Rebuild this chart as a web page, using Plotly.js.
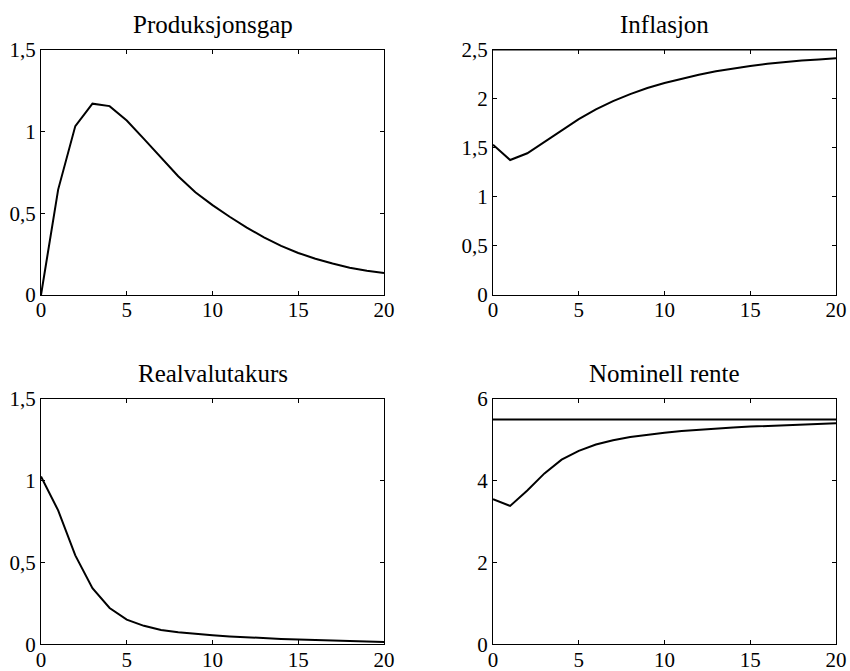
<!DOCTYPE html>
<html>
<head>
<meta charset="utf-8">
<script src="https://cdn.plot.ly/plotly-3.0.1.min.js"></script>
<style>html,body{margin:0;padding:0;background:#fff;}#chart{width:850px;height:671px;}</style>
</head>
<body>
<div id="chart"></div>
<script>
// Periods (quarters)
const periods = [0,1,2,3,4,5,6,7,8,9,10,11,12,13,14,15,16,17,18,19,20];

// Produksjonsgap
const outputGap = [0, 0.644, 1.032, 1.169, 1.154, 1.066, 0.954, 0.838, 0.726, 0.628, 0.549,
                   0.478, 0.412, 0.352, 0.300, 0.257, 0.222, 0.192, 0.167, 0.148, 0.134];
// Inflasjon
const inflation = [1.53, 1.375, 1.443, 1.56, 1.68, 1.79, 1.89, 1.974, 2.045, 2.108, 2.158,
                   2.203, 2.243, 2.278, 2.308, 2.333, 2.354, 2.372, 2.388, 2.399, 2.41];
const inflationTarget = 2.5;
// Realvalutakurs
const realExchangeRate = [1.026, 0.819, 0.544, 0.343, 0.222, 0.151, 0.113, 0.088, 0.073, 0.062, 0.055,
                          0.048, 0.042, 0.037, 0.033, 0.029, 0.025, 0.022, 0.019, 0.017, 0.014];
// Nominell rente
const nominalRate = [3.55, 3.385, 3.76, 4.18, 4.515, 4.733, 4.885, 4.99, 5.07, 5.13, 5.175,
                     5.215, 5.25, 5.28, 5.305, 5.325, 5.343, 5.358, 5.372, 5.387, 5.405];
const neutralRate = 5.5;

// Titles and tick labels
const panelTitles = ["Produksjonsgap", "Inflasjon", "Realvalutakurs", "Nominell rente"];
const xTickVals = [0, 5, 10, 15, 20];
const xTickText = ["0", "5", "10", "15", "20"];
const yTickVals1 = [0, 0.5, 1, 1.5];
const yTickText1 = ["0", "0,5", "1", "1,5"];
const yTickVals2 = [0, 0.5, 1, 1.5, 2, 2.5];
const yTickText2 = ["0", "0,5", "1", "1,5", "2", "2,5"];
const yTickVals3 = [0, 0.5, 1, 1.5];
const yTickText3 = ["0", "0,5", "1", "1,5"];
const yTickVals4 = [0, 2, 4, 6];
const yTickText4 = ["0", "2", "4", "6"];

const W = 850, H = 671;
const FONT = "Liberation Serif, Times New Roman, serif";
const lineStyle = {color: "#000", width: 2};

const xEnd = [periods[0], periods[periods.length - 1]];

const traces = [
  {x: periods, y: outputGap, xaxis: "x", yaxis: "y", mode: "lines", line: lineStyle},
  {x: periods, y: inflation, xaxis: "x2", yaxis: "y2", mode: "lines", line: lineStyle},
  {x: xEnd, y: [inflationTarget, inflationTarget], xaxis: "x2", yaxis: "y2", mode: "lines", line: lineStyle},
  {x: periods, y: realExchangeRate, xaxis: "x3", yaxis: "y3", mode: "lines", line: lineStyle},
  {x: periods, y: nominalRate, xaxis: "x4", yaxis: "y4", mode: "lines", line: lineStyle},
  {x: xEnd, y: [neutralRate, neutralRate], xaxis: "x4", yaxis: "y4", mode: "lines", line: lineStyle}
];

// domains in pixels -> paper
const colL = [41 / W, 384 / W];
const colR = [493 / W, 836 / W];
const rowT = [(H - 295) / H, (H - 49.5) / H];
const rowB = [(H - 644.3) / H, (H - 399) / H];

function xaxis(domain, anchor) {
  return {
    domain: domain, anchor: anchor, range: [0, 20],
    tickmode: "array", tickvals: xTickVals, ticktext: xTickText,
    ticks: "inside", ticklen: 4, tickwidth: 1, tickcolor: "#000",
    showline: true, linecolor: "#000", linewidth: 1, mirror: "ticks",
    showgrid: false, zeroline: false, ticklabelstandoff: -4,
    tickfont: {family: FONT, size: 21, color: "#000"}
  };
}
function yaxis(domain, anchor, range, vals, text) {
  return {
    domain: domain, anchor: anchor, range: range,
    tickmode: "array", tickvals: vals, ticktext: text,
    ticks: "inside", ticklen: 4, tickwidth: 1, tickcolor: "#000",
    showline: true, linecolor: "#000", linewidth: 1, mirror: "ticks",
    showgrid: false, zeroline: false,
    tickfont: {family: FONT, size: 21, color: "#000"}
  };
}

function titleAnn(text, domainX, yPaper) {
  return {
    text: text, xref: "paper", yref: "paper",
    x: (domainX[0] + domainX[1]) / 2, y: yPaper,
    xanchor: "center", yanchor: "middle", showarrow: false,
    font: {family: FONT, size: 25, color: "#000"}
  };
}

const layout = {
  width: W, height: H,
  margin: {l: 0, r: 0, t: 0, b: 0},
  paper_bgcolor: "#fff", plot_bgcolor: "#fff",
  showlegend: false,
  font: {family: FONT, color: "#000"},
  xaxis: xaxis(colL, "y"),
  yaxis: yaxis(rowT, "x", [0, 1.5], yTickVals1, yTickText1),
  xaxis2: xaxis(colR, "y2"),
  yaxis2: yaxis(rowT, "x2", [0, 2.5], yTickVals2, yTickText2),
  xaxis3: xaxis(colL, "y3"),
  yaxis3: yaxis(rowB, "x3", [0, 1.5], yTickVals3, yTickText3),
  xaxis4: xaxis(colR, "y4"),
  yaxis4: yaxis(rowB, "x4", [0, 6], yTickVals4, yTickText4),
  annotations: [
    titleAnn(panelTitles[0], colL, (H - 25) / H),
    titleAnn(panelTitles[1], colR, (H - 25) / H),
    titleAnn(panelTitles[2], colL, (H - 374) / H),
    titleAnn(panelTitles[3], colR, (H - 374) / H)
  ]
};

Plotly.newPlot("chart", traces, layout, {staticPlot: true, displayModeBar: false});
</script>
</body>
</html>
